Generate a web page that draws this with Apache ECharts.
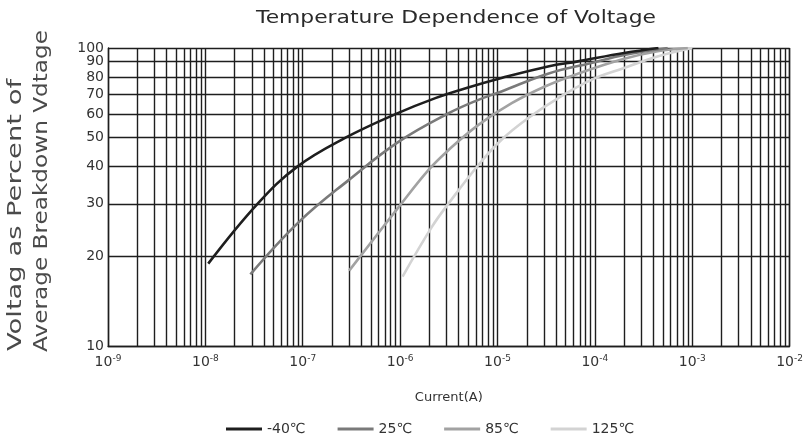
<!DOCTYPE html>
<html><head><meta charset="utf-8">
<script src="https://cdn.jsdelivr.net/npm/echarts@6/dist/echarts.min.js"></script>
<style>html,body{margin:0;padding:0;background:#fff}#c{width:806px;height:436px}</style>
</head><body><div id="c"></div>
<script>
// ---- data ----
const seriesNames = ['-40℃', '25℃', '85℃', '125℃'];
const curM40 = [1.07e-8, 3.43e-8, 8.8e-8, 2.75e-7, 8.95e-7, 2.3e-6, 5.0e-6, 1.1e-5, 3.3e-5, 6.7e-5, 2.0e-4, 4.5e-4];
const volM40 = [18.9, 30, 40, 50, 60, 67.9, 73.7, 79.3, 86.7, 90.2, 96.2, 100];
const cur25 = [2.9e-8, 9.16e-8, 2.98e-7, 9.7e-7, 3.15e-6, 6.37e-6, 1.1e-5, 3.3e-5, 9.2e-5, 2.0e-4, 5.6e-4];
const vol25 = [17.4, 26.1, 36.1, 48.5, 60.4, 67.0, 71.5, 82.0, 89.1, 94.8, 100];
const cur85 = [3.0e-7, 9.7e-7, 1.96e-6, 3.15e-6, 6.37e-6, 1.4e-5, 3.07e-5, 6.7e-5, 2.0e-4, 4.4e-4, 9.0e-4];
const vol85 = [17.9, 29.3, 39.0, 45.5, 55.2, 65.3, 74.3, 82.0, 92.0, 97.5, 100];
const cur125 = [1.06e-6, 2.12e-6, 3.15e-6, 6.37e-6, 1.1e-5, 2.07e-5, 4.2e-5, 9.2e-5, 2.0e-4, 4.4e-4, 1.0e-3];
const vol125 = [17.1, 25.1, 30.1, 40.5, 49.2, 58.2, 67.9, 78.2, 85.7, 93.7, 100];
const xDecades = [1e-9, 1e-8, 1e-7, 1e-6, 1e-5, 1e-4, 1e-3, 1e-2];
const xMinorMult = [2, 3, 4, 5, 6, 7, 8, 9];
const yTicks = [10, 20, 30, 40, 50, 60, 70, 80, 90, 100];
const titleText = 'Temperature Dependence of Voltage';
const yNameLines = ['Voltag as Percent of', 'Average Breakdown Vdtage'];
const xName = 'Current(A)';
// ---- build ----
const colors = ['#1e1e1e', '#7a7a7a', '#a2a2a2', '#d3d3d3'];
const zip = (a, b) => a.map((v, i) => [v, b[i]]);
const dataSets = [zip(curM40, volM40), zip(cur25, vol25), zip(cur85, vol85), zip(cur125, vol125)];
const xMinor = [];
xDecades.slice(0, -1).forEach(d => xMinorMult.forEach(m => xMinor.push(+(d * m).toPrecision(3))));
const yInner = yTicks.slice(1, -1);
const yMin = yTicks[0], yMax = yTicks[yTicks.length - 1];
const gridColor = '#1e1e1e';
const FONT = '"DejaVu Sans", "Liberation Sans", Arial, sans-serif';
const ctx = document.createElement('canvas').getContext('2d');
function fit(text, font, target) { ctx.font = font; return target / ctx.measureText(text).width; }
const titleFont = '17px "DejaVu Sans"';
const yNameFont = '19px "DejaVu Sans"';

const chart = echarts.init(document.getElementById('c'));
const curveSeries = seriesNames.map((n, i) => ({
  name: n, type: 'line', data: dataSets[i], smooth: 0.4, showSymbol: false, symbol: 'none',
  lineStyle: { color: colors[i], width: 2.6 }, itemStyle: { color: colors[i] }, z: 8 - i * 0.5
}));
chart.setOption({
  animation: false,
  textStyle: { fontFamily: FONT },
  graphic: [
    { type: 'text', x: 456, y: 19, scaleX: fit(titleText, titleFont, 400),
      style: { text: titleText, font: titleFont, fill: '#2a2a2a', align: 'center', verticalAlign: 'middle' } },
    { type: 'text', x: 16, y: 351, rotation: Math.PI / 2, scaleX: fit(yNameLines[0], yNameFont, 272),
      style: { text: yNameLines[0], font: yNameFont, fill: '#4a4a4a', align: 'left', verticalAlign: 'middle' } },
    { type: 'text', x: 42, y: 352, rotation: Math.PI / 2, scaleX: fit(yNameLines[1], yNameFont, 322),
      style: { text: yNameLines[1], font: yNameFont, fill: '#4a4a4a', align: 'left', verticalAlign: 'middle' } }
  ],
  grid: { left: 108, right: 14, top: 48, bottom: 90 },
  legend: { data: seriesNames, left: 221, top: 417, itemWidth: 36, itemHeight: 3, icon: 'rect', itemGap: 32,
    textStyle: { fontFamily: FONT, fontSize: 14, color: '#333' } },
  xAxis: { type: 'log', logBase: 10, min: xDecades[0], max: xDecades[xDecades.length - 1], interval: 1,
    name: xName, nameLocation: 'middle', nameGap: 45,
    nameTextStyle: { fontFamily: FONT, fontSize: 13, color: '#333' },
    axisLine: { lineStyle: { color: gridColor, width: 1.4 } },
    axisTick: { show: false },
    axisLabel: { margin: 8, color: '#333',
      formatter: v => '{b|10}{s|' + Math.round(Math.log10(v)) + '}',
      rich: { b: { fontSize: 14, fontFamily: FONT, color: '#333' }, s: { fontSize: 9, fontFamily: FONT, color: '#333', padding: [0, 0, 8, 0] } } },
    splitLine: { show: true, lineStyle: { color: gridColor, width: 1.4 } } },
  yAxis: { type: 'log', logBase: 10, min: yMin, max: yMax, interval: 1,
    axisLine: { show: true, lineStyle: { color: gridColor, width: 1.4 } },
    axisTick: { show: false },
    axisLabel: { margin: 4, fontSize: 14, color: '#333', fontFamily: FONT },
    splitLine: { show: true, lineStyle: { color: gridColor, width: 1.4 } } },
  series: [
    { name: 'grid', type: 'line', data: [], z: 1, silent: true,
      markLine: { silent: true, symbol: ['none', 'none'], z: 1, animation: false,
        lineStyle: { color: gridColor, width: 1.4, type: 'solid' },
        data: [
          ...xMinor.map(v => [{ coord: [v, yMin], label: { show: false } }, { coord: [v, yMax] }]),
          ...yInner.map(v => ({ yAxis: v, label: { show: true, position: 'start', distance: 4, formatter: String(v),
            fontSize: 14, color: '#333', fontFamily: FONT } }))
        ] } },
    ...curveSeries
  ]
});
</script></body></html>
